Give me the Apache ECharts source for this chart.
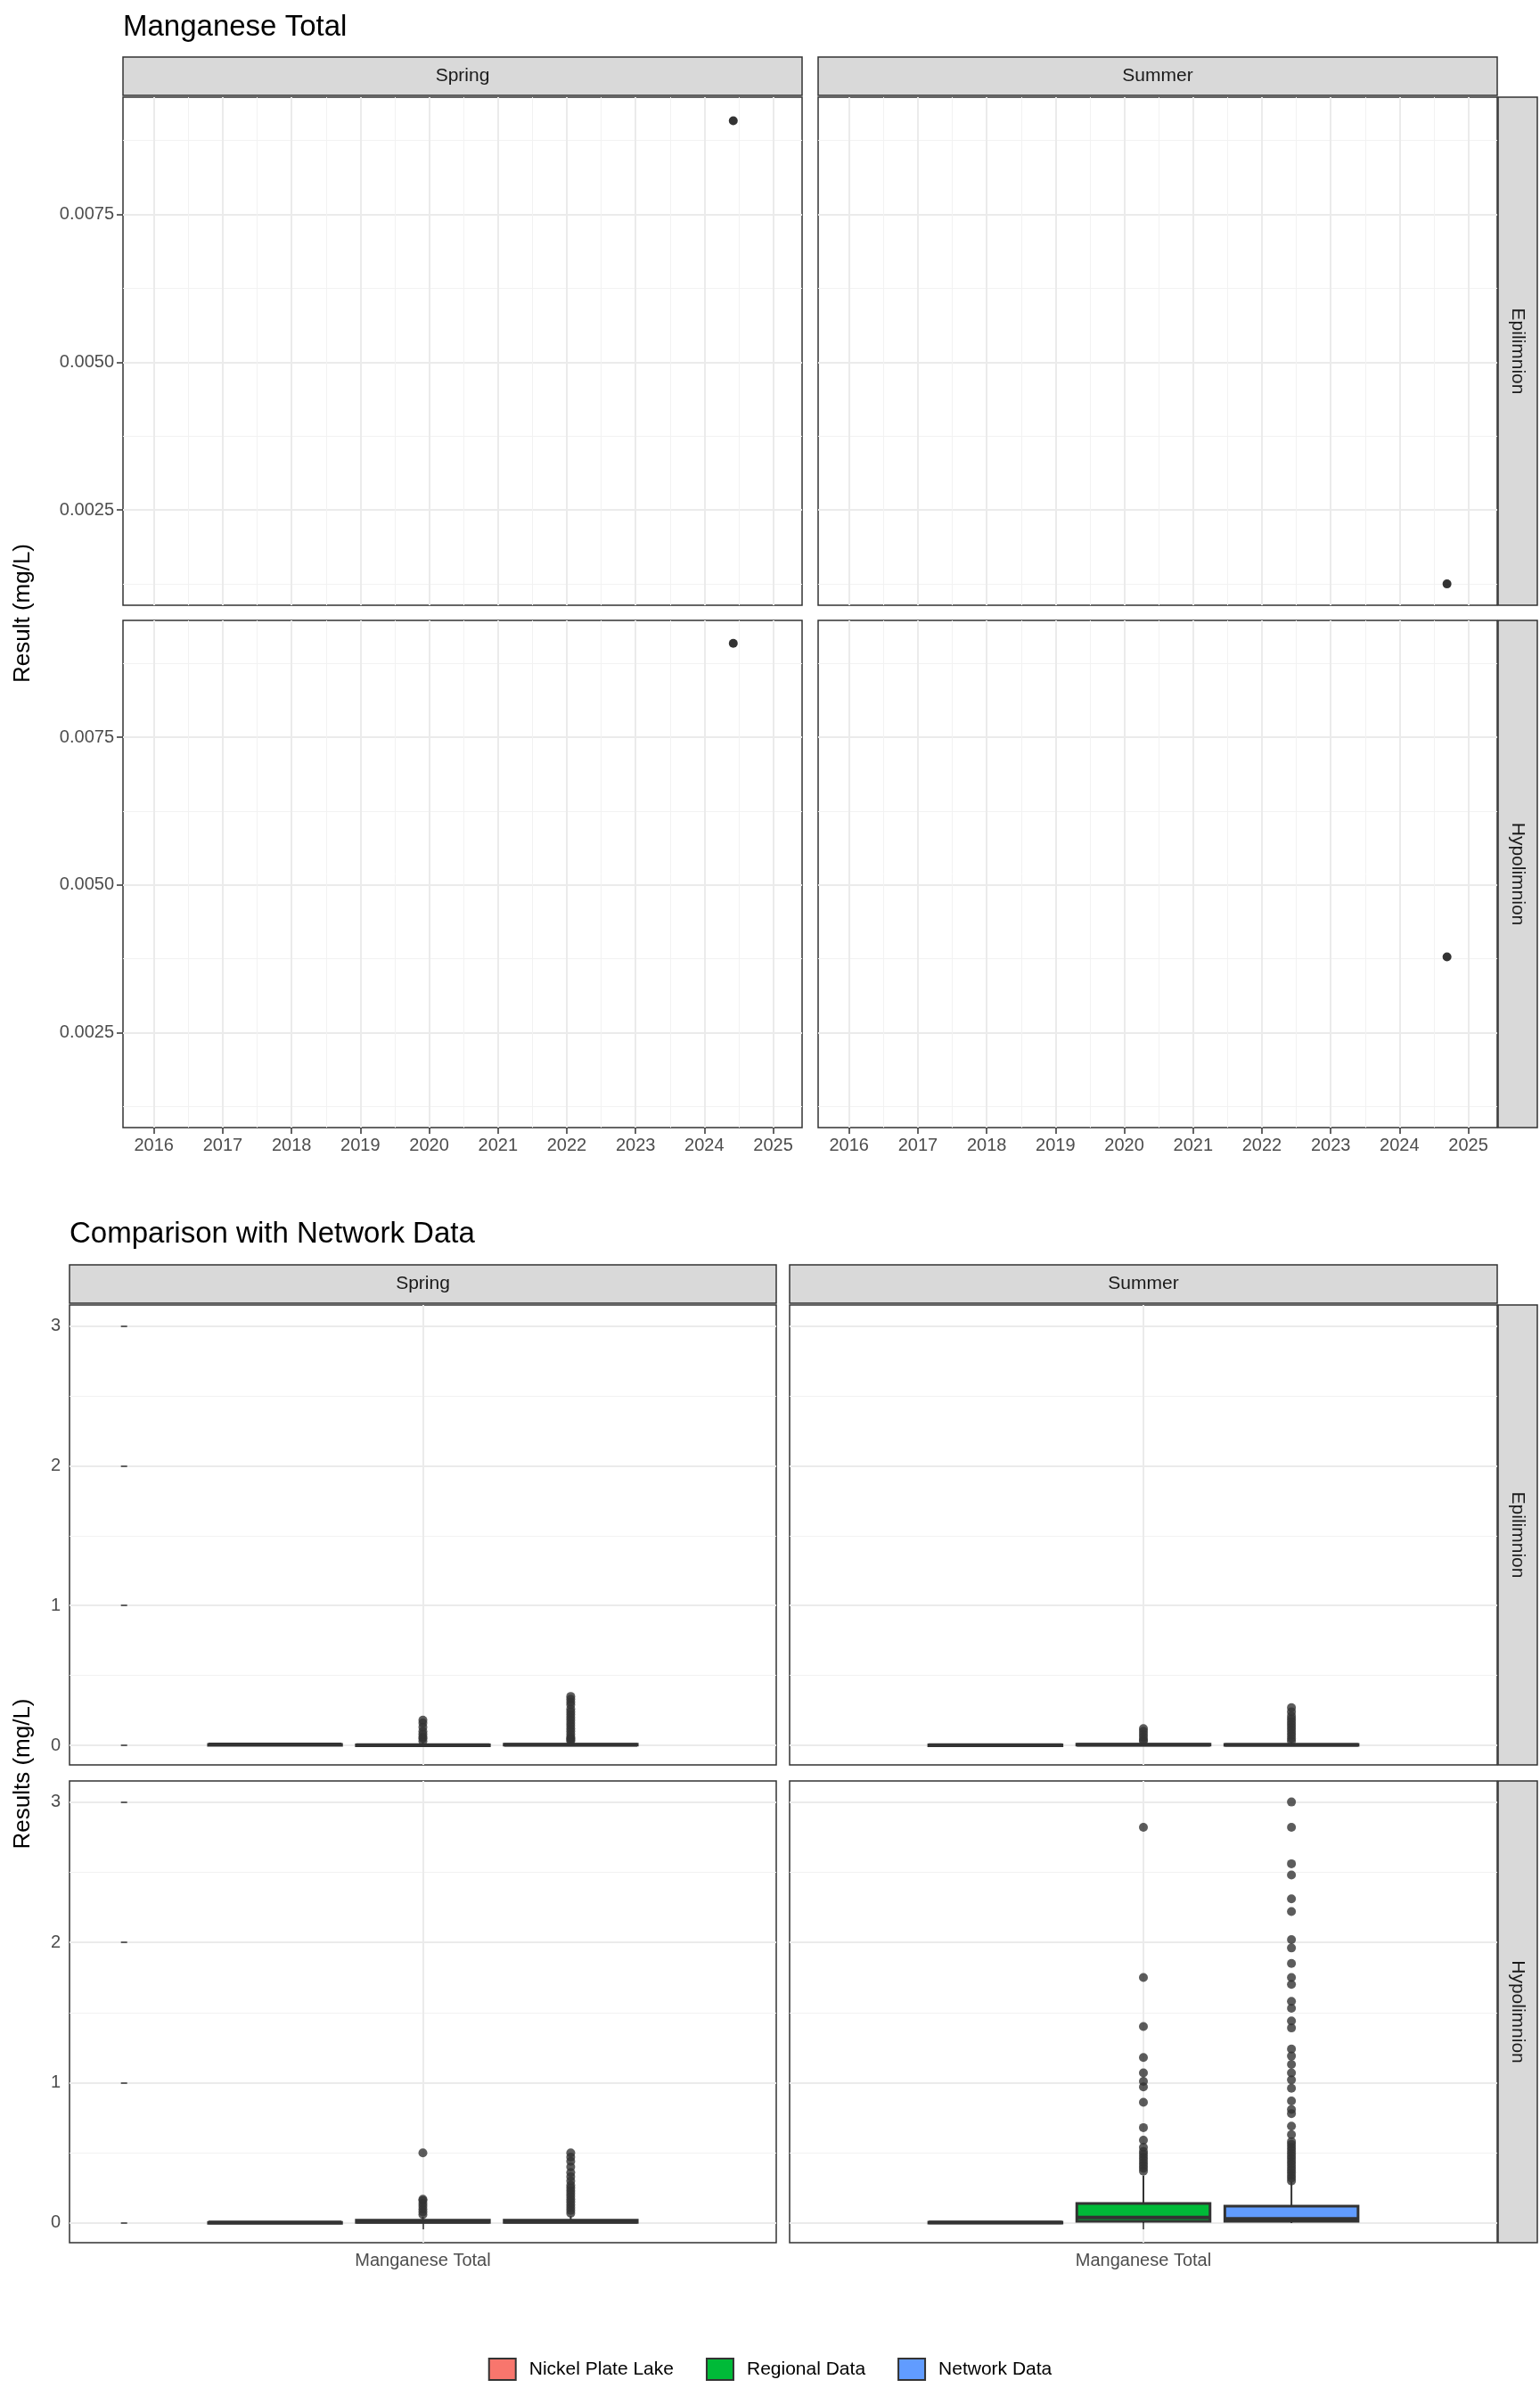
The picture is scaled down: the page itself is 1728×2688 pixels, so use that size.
<!DOCTYPE html>
<html>
<head>
<meta charset="utf-8">
<script src="https://cdn.jsdelivr.net/npm/echarts@6/dist/echarts.min.js"></script>
<style>
  html, body { margin: 0; padding: 0; background: #fff; }
  #main { width: 1728px; height: 2688px; }
</style>
</head>
<body>
<div id="main"></div>
<script>
// ---- data ----
const seasons = ['Spring', 'Summer'];
const layers = ['Epilimnion', 'Hypolimnion'];
const yearTicks = [2016, 2017, 2018, 2019, 2020, 2021, 2022, 2023, 2024, 2025];
const resultTicks = [0.0025, 0.005, 0.0075];
const compTicks = [0, 1, 2, 3];

// top panels: [decimal year, result mg/L]
const springEpi = [[2024.42, 0.00908]];
const summerEpi = [[2024.69, 0.00125]];
const springHypo = [[2024.42, 0.00909]];
const summerHypo = [[2024.69, 0.00378]];

const groups = ['Nickel Plate Lake', 'Regional Data', 'Network Data'];
const groupColors = ['#F8766D', '#00BA38', '#619CFF'];

// box stats per panel: [min, q1, median, q3, max] for each group
const boxSpringEpi = [[0.004, 0.005, 0.006, 0.007, 0.008], [0, 0.001, 0.002, 0.004, 0.02], [0, 0.002, 0.004, 0.008, 0.02]];
const boxSummerEpi = [[0, 0.001, 0.002, 0.003, 0.004], [0, 0.002, 0.004, 0.008, 0.02], [0, 0.001, 0.003, 0.007, 0.02]];
const boxSpringHypo = [[0.002, 0.003, 0.004, 0.005, 0.006], [0, 0.005, 0.01, 0.02, 0.045], [0, 0.005, 0.01, 0.02, 0.05]];
const boxSummerHypo = [[0, 0.002, 0.004, 0.006, 0.008], [0, 0.013, 0.04, 0.139, 0.338], [0, 0.013, 0.03, 0.121, 0.294]];

// outliers per panel, per group
const outSpringEpi = [[], [0.03, 0.05, 0.06, 0.08, 0.1, 0.13, 0.16, 0.18],
  [0.03, 0.04, 0.05, 0.06, 0.08, 0.1, 0.12, 0.14, 0.16, 0.18, 0.2, 0.22, 0.24, 0.26, 0.29, 0.31, 0.33, 0.35]];
const outSummerEpi = [[], [0.03, 0.04, 0.06, 0.08, 0.1, 0.12],
  [0.03, 0.05, 0.07, 0.09, 0.11, 0.13, 0.15, 0.17, 0.19, 0.21, 0.24, 0.27]];
const outSpringHypo = [[], [0.06, 0.08, 0.1, 0.12, 0.14, 0.16, 0.17, 0.5],
  [0.07, 0.09, 0.11, 0.13, 0.15, 0.17, 0.19, 0.21, 0.23, 0.25, 0.27, 0.3, 0.33, 0.36, 0.4, 0.44, 0.47, 0.5]];
const outSummerHypo = [[],
  [0.37, 0.39, 0.41, 0.43, 0.45, 0.47, 0.49, 0.51, 0.54, 0.59, 0.68, 0.86, 0.97, 1.01, 1.07, 1.18, 1.4, 1.75, 2.82],
  [0.3, 0.32, 0.34, 0.36, 0.38, 0.4, 0.42, 0.44, 0.46, 0.48, 0.5, 0.52, 0.54, 0.56, 0.58, 0.63, 0.69, 0.78, 0.81, 0.87,
   0.96, 1.02, 1.07, 1.13, 1.19, 1.24, 1.39, 1.44, 1.53, 1.58, 1.7, 1.75, 1.85, 1.96, 2.02, 2.22, 2.31, 2.48, 2.56, 2.82, 3.0]];

// ---- layout ----
const topGrids = [
  { left: 138, top: 109, width: 762, height: 570 },
  { left: 918, top: 109, width: 762, height: 570 },
  { left: 138, top: 696, width: 762, height: 569 },
  { left: 918, top: 696, width: 762, height: 569 }
];
const botGrids = [
  { left: 78, top: 1464, width: 793, height: 516 },
  { left: 886, top: 1464, width: 794, height: 516 },
  { left: 78, top: 1998, width: 793, height: 518 },
  { left: 886, top: 1998, width: 794, height: 518 }
];

const txt = '#4D4D4D';
const gridCol = '#EBEBEB';
const font = 'Liberation Sans, Arial, sans-serif';

let grid = [], xAxis = [], yAxis = [], series = [], graphic = [];

function halves(a, b) { let r = []; for (let v = a; v <= b + 1e-9; v += 0.5) r.push(v); return r; }

function addAxes(gi, g, xr, yr, xMajor, yMajor, xMinor, yMinor, showX, showY, xFmt, yFmt) {
  grid.push(Object.assign({ show: true, borderColor: '#333', borderWidth: 1.5, backgroundColor: '#fff' }, g));
  // minor grid axes (hidden, only split lines)
  xAxis.push({ type: 'value', gridIndex: gi, position: 'top', min: xr[0], max: xr[1],
    axisLine: { show: false }, axisLabel: { show: false },
    axisTick: { show: false, customValues: xMinor },
    splitLine: { show: true, lineStyle: { color: '#F2F2F2', width: 1 } } });
  yAxis.push({ type: 'value', gridIndex: gi, position: 'right', min: yr[0], max: yr[1],
    axisLine: { show: false }, axisLabel: { show: false },
    axisTick: { show: false, customValues: yMinor },
    splitLine: { show: true, lineStyle: { color: '#F2F2F2', width: 1 } } });
  xAxis.push({ type: 'value', gridIndex: gi, position: 'bottom', min: xr[0], max: xr[1],
    axisLine: { show: false },
    axisTick: { show: showX, length: 7, lineStyle: { color: '#333', width: 1.5 }, customValues: xMajor },
    axisLabel: { show: showX, color: txt, fontSize: 20, fontFamily: font, margin: 10, customValues: xMajor, formatter: xFmt },
    splitLine: { show: true, lineStyle: { color: gridCol, width: 2 } } });
  yAxis.push({ type: 'value', gridIndex: gi, position: 'left', min: yr[0], max: yr[1],
    axisLine: { show: false },
    axisTick: { show: showY, length: 7, lineStyle: { color: '#333', width: 1.5 }, customValues: yMajor },
    axisLabel: { show: showY, color: txt, fontSize: 20, fontFamily: font, margin: 10, customValues: yMajor, formatter: yFmt },
    splitLine: { show: true, lineStyle: { color: gridCol, width: 2 } } });
  return xAxis.length - 1;
}

function strip(x, y, w, h, text, vertical) {
  graphic.push({ type: 'rect', shape: { x: x, y: y, width: w, height: h },
    style: { fill: '#D9D9D9', stroke: '#333', lineWidth: 1.5 } });
  graphic.push({ type: 'text', x: x + w / 2, y: y + h / 2, rotation: vertical ? -Math.PI / 2 : 0,
    style: { text: text, fill: '#1A1A1A', font: '21px ' + font, align: 'center', verticalAlign: 'middle' } });
}

// ---- top: time series ----
const topData = [springEpi, summerEpi, springHypo, summerHypo];
const xr = [2015.55, 2025.42], yr = [0.00089, 0.00948];
topData.forEach(function (d, i) {
  const ai = addAxes(i, topGrids[i], xr, yr, yearTicks, resultTicks,
    halves(2015.5, 2025.5), [0.00125, 0.00375, 0.00625, 0.00875],
    i >= 2, i % 2 === 0, function (v) { return String(Math.round(v)); }, function (v) { return v.toFixed(4); });
  series.push({ type: 'scatter', xAxisIndex: ai, yAxisIndex: ai, data: d, symbolSize: 10,
    itemStyle: { color: '#000' }, silent: true });
});

// ---- bottom: box plots ----
const boxData = [boxSpringEpi, boxSummerEpi, boxSpringHypo, boxSummerHypo];
const outData = [outSpringEpi, outSummerEpi, outSpringHypo, outSummerHypo];
const bxr = [-0.39, 4.39], byr = [-0.14, 3.15];
const boxW = 0.9;
boxData.forEach(function (panel, p) {
  const gi = 4 + p;
  const ai = addAxes(gi, botGrids[p], bxr, byr, [2], compTicks, [], [0.5, 1.5, 2.5],
    p >= 2, p % 2 === 0, function () { return 'Manganese Total'; }, function (v) { return String(v); });
  panel.forEach(function (st, k) {
    series.push({
      name: groups[k], type: 'custom', xAxisIndex: ai, yAxisIndex: ai,
      itemStyle: { color: groupColors[k] },
      data: [[k + 1].concat(st)],
      renderItem: function (params, api) {
        const x = api.value(0);
        const pMin = api.coord([x, api.value(1)]);
        const pQ1 = api.coord([x, api.value(2)]);
        const pMed = api.coord([x, api.value(3)]);
        const pQ3 = api.coord([x, api.value(4)]);
        const pMax = api.coord([x, api.value(5)]);
        const w = api.size([boxW, 0])[0];
        const line = { stroke: '#333', lineWidth: 2 };
        return { type: 'group', children: [
          { type: 'line', shape: { x1: pMin[0], y1: pMin[1], x2: pQ1[0], y2: pQ1[1] }, style: line },
          { type: 'line', shape: { x1: pQ3[0], y1: pQ3[1], x2: pMax[0], y2: pMax[1] }, style: line },
          { type: 'rect', shape: { x: pQ3[0] - w / 2, y: pQ3[1], width: w, height: Math.max(pQ1[1] - pQ3[1], 1) },
            style: { fill: groupColors[k], stroke: '#333', lineWidth: 3 } },
          { type: 'line', shape: { x1: pMed[0] - w / 2, y1: pMed[1], x2: pMed[0] + w / 2, y2: pMed[1] },
            style: { stroke: '#333', lineWidth: 4 } }
        ] };
      }
    });
    if (outData[p][k].length) {
      series.push({ type: 'scatter', xAxisIndex: ai, yAxisIndex: ai, symbolSize: 10, silent: true,
        itemStyle: { color: '#333' },
        data: outData[p][k].map(function (v) { return [k + 1, v]; }) });
    }
  });
});

// ---- strips, titles, axis names ----
strip(138, 64, 762, 43, 'Spring');
strip(918, 64, 762, 43, 'Summer');
strip(1681, 109, 44, 570, 'Epilimnion', true);
strip(1681, 696, 44, 569, 'Hypolimnion', true);
strip(78, 1419, 793, 43, 'Spring');
strip(886, 1419, 794, 43, 'Summer');
strip(1681, 1464, 44, 516, 'Epilimnion', true);
strip(1681, 1998, 44, 518, 'Hypolimnion', true);

graphic.push({ type: 'text', x: 138, y: 14, style: { text: 'Manganese Total', fill: '#000', font: '33px ' + font } });
graphic.push({ type: 'text', x: 78, y: 1368, style: { text: 'Comparison with Network Data', fill: '#000', font: '33px ' + font } });
graphic.push({ type: 'text', x: 26, y: 688, rotation: Math.PI / 2,
  style: { text: 'Result (mg/L)', fill: '#000', font: '26px ' + font, align: 'center', verticalAlign: 'middle' } });
graphic.push({ type: 'text', x: 26, y: 1990, rotation: Math.PI / 2,
  style: { text: 'Results (mg/L)', fill: '#000', font: '26px ' + font, align: 'center', verticalAlign: 'middle' } });

const option = {
  backgroundColor: '#fff',
  animation: false,
  grid: grid,
  xAxis: xAxis,
  yAxis: yAxis,
  series: series,
  graphic: graphic,
  legend: {
    data: groups,
    top: 2640,
    left: 'center',
    icon: 'rect',
    itemWidth: 30,
    itemHeight: 24,
    itemGap: 36,
    textStyle: { color: '#000', fontSize: 21, fontFamily: font, padding: [0, 0, 0, 10] },
    itemStyle: { borderColor: '#333', borderWidth: 2 }
  }
};

const chart = echarts.init(document.getElementById('main'));
chart.setOption(option);
</script>
</body>
</html>
